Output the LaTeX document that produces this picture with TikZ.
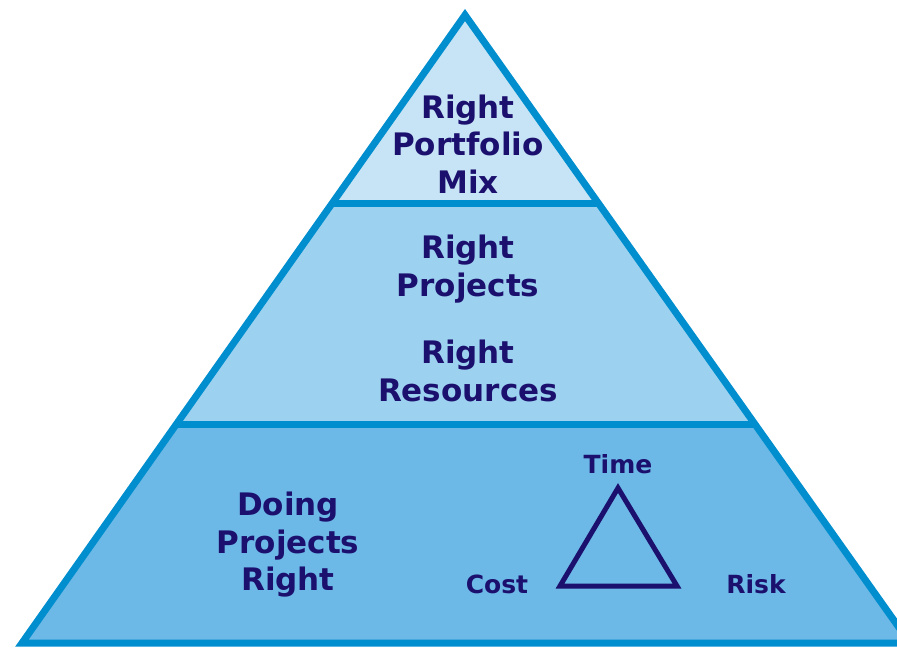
\documentclass[tikz,border=0pt]{standalone}
\usepackage{fontspec}
\setmainfont{DejaVu Sans}
\usepackage{tikz}
\usetikzlibrary{calc}

\definecolor{pyrline}{RGB}{0,142,206}
\definecolor{topfill}{RGB}{198,228,245}
\definecolor{midfill}{RGB}{156,210,240}
\definecolor{lowfill}{RGB}{108,184,230}
\definecolor{navytext}{RGB}{27,16,110}

\begin{document}
\begin{tikzpicture}[x=1pt,y=-1pt,
		bigtext/.style={text=navytext,font=\fontsize{31}{37.5}\selectfont\bfseries,align=center,inner sep=0pt},
		smalltext/.style={text=navytext,font=\fontsize{25}{30}\selectfont\bfseries,inner sep=0pt,anchor=base},
		pyredge/.style={draw=pyrline,line width=7pt}]
			\useasboundingbox (0,0) rectangle (897,648);
			\clip (0,0) rectangle (897,648);
			
			% Corners of the pyramid
			\coordinate (apex) at (465,15);
			\coordinate (bl) at (22,643);
			\coordinate (br) at (910,643);
			\coordinate (ul) at ($(apex)!0.3!(bl)$);
			\coordinate (ur) at ($(apex)!0.3!(br)$);
			\coordinate (ml) at ($(apex)!0.652!(bl)$);
			\coordinate (mr) at ($(apex)!0.652!(br)$);
			
			% Fill the three layers
			\fill[topfill] (apex) -- (ul) -- (ur) -- cycle;
			\fill[midfill] (ul) -- (ml) -- (mr) -- (ur) -- cycle;
			\fill[lowfill] (ml) -- (bl) -- (br) -- (mr) -- cycle;
			
			% Draw the outline and the dividers
			\draw[pyredge] (apex) -- (bl) -- (br) -- cycle;
			\draw[pyredge] (ul) -- (ur);
			\draw[pyredge] (ml) -- (mr);
			
			% Label the layers
			\node[bigtext] (mix) at (468,144) {Right\\Portfolio\\Mix};
			\node[bigtext] (projects) at (468,269) {Right\\Projects};
			\node[bigtext] (resources) at (468,371) {Right\\Resources};
			\node[bigtext] (doing) at (288,545) {Doing\\Projects\\Right};
			
			% Draw the small triangle
			\coordinate (ttop) at (618,488);
			\coordinate (tleft) at (560,586);
			\coordinate (tright) at (677,586);
			\draw[navytext,line width=5pt] (ttop) -- (tleft) -- (tright) -- cycle;
			
			% Label the small triangle
			\node[smalltext] (time) at (618,473) {Time};
			\node[smalltext] (cost) at (497,593) {Cost};
			\node[smalltext] (risk) at (756,593) {Risk};
		\end{tikzpicture}
\end{document}
